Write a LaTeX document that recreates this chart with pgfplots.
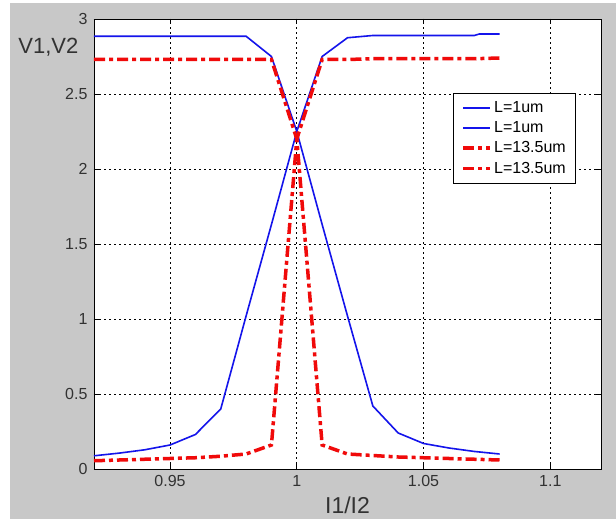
\documentclass[border=0pt]{standalone}
\usepackage{fontspec}
\setmainfont{Liberation Sans}
\usepackage{pgfplots}
\pgfplotsset{compat=1.18}
\definecolor{bgray}{RGB}{200,200,200}
\definecolor{mblue}{RGB}{20,20,235}
\definecolor{mred}{RGB}{240,10,10}
\definecolor{tgray}{RGB}{50,50,50}
\begin{document}
\begin{tikzpicture}[x=1pt,y=1pt]
\useasboundingbox (0,0) rectangle (616,519);
\fill[white] (0,0) rectangle (616,519);
\fill[bgray] (10,0) rectangle (616,516);
\begin{axis}[
  at={(94pt,50pt)}, anchor=south west,
  scale only axis, width=507pt, height=450pt,
  xmin=0.92, xmax=1.12, ymin=0, ymax=3,
  axis background/.style={fill=white},
  axis line style={black, line width=0.9pt},
  xtick={0.95,1,1.05,1.1},
  xticklabels={0.95,1,1.05,1.1},
  ytick={0,0.5,1,1.5,2,2.5,3},
  yticklabels={0,0.5,1,1.5,2,2.5,3},
  tick align=inside, major tick length=5pt,
  tick style={black, line width=0.7pt},
  xtick pos=both, ytick pos=both,
  grid=major,
  major grid style={black, line width=0.8pt, dash pattern=on 2pt off 3pt},
  /pgf/number format/assume math mode=true,
  tick label style={font=\fontsize{16}{19}\selectfont, text=tgray},
  xticklabel style={yshift=-3pt},
  yticklabel style={xshift=-3pt},
  xlabel={I1/I2},
  xlabel style={at={(axis description cs:0.5,-0.08)}, anchor=center, font=\fontsize{23}{27}\selectfont, text=tgray},
  ylabel={V1,V2},
  ylabel style={rotate=-90, at={(axis description cs:-0.09,0.938)}, anchor=center, font=\fontsize{22}{26}\selectfont, text=tgray},
  legend style={at={(rel axis cs:0.951,0.836)}, anchor=north east, draw=black, line width=0.8pt, fill=white,
    font=\fontsize{16}{19}\selectfont, row sep=3.6pt, inner xsep=8pt, inner ysep=6.3pt},
  legend cell align=left,
  legend image code/.code={\draw[#1] (0pt,0pt) -- (27pt,0pt);},
]
\addplot[mblue, line width=1.6pt] coordinates {
(0.92,2.885) (0.93,2.885) (0.94,2.885) (0.95,2.885) (0.96,2.885) (0.97,2.885) (0.98,2.885)
(0.99,2.75) (1.00,2.25) (1.01,1.63) (1.02,1.02) (1.03,0.42) (1.04,0.24) (1.05,0.17)
(1.06,0.14) (1.07,0.117) (1.08,0.10)};
\addlegendentry{L=1um}
\addplot[mblue, line width=1.6pt] coordinates {
(0.92,0.088) (0.93,0.106) (0.94,0.128) (0.95,0.16) (0.96,0.23) (0.97,0.40) (0.98,1.02)
(0.99,1.63) (1.00,2.25) (1.01,2.75) (1.02,2.875) (1.03,2.89) (1.04,2.89) (1.05,2.89)
(1.06,2.89) (1.07,2.89) (1.072,2.90) (1.08,2.90)};
\addlegendentry{L=1um}
\addplot[mred, line width=3.5pt, dash pattern=on 11pt off 4pt on 4pt off 4pt] coordinates {
(0.92,2.73) (0.93,2.73) (0.94,2.73) (0.95,2.73) (0.96,2.73) (0.97,2.73) (0.98,2.73)
(0.99,2.73) (1.00,2.2) (1.01,0.16) (1.02,0.10) (1.03,0.09) (1.04,0.08) (1.05,0.075)
(1.06,0.07) (1.07,0.065) (1.08,0.06)};
\addlegendentry{L=13.5um}
\addplot[mred, line width=3.5pt, dash pattern=on 11pt off 4pt on 4pt off 4pt] coordinates {
(0.92,0.055) (0.93,0.06) (0.94,0.065) (0.95,0.07) (0.96,0.075) (0.97,0.085) (0.98,0.10)
(0.99,0.16) (1.00,2.2) (1.01,2.73) (1.02,2.73) (1.03,2.735) (1.04,2.735) (1.05,2.735)
(1.06,2.735) (1.07,2.735) (1.08,2.74)};
\addlegendentry{L=13.5um}
\end{axis}
\end{tikzpicture}
\end{document}
